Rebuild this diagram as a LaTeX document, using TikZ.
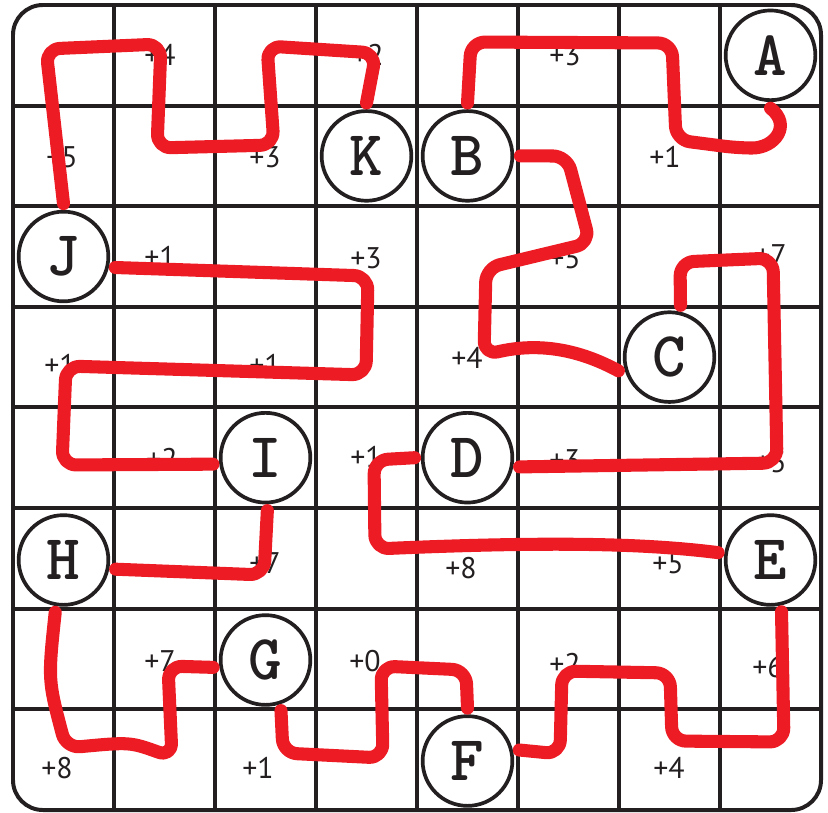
\documentclass[tikz,border=0pt]{standalone}
\usepackage{fontspec}
\setmainfont{PT Sans}
\usepackage{tikz}
\definecolor{gridInk}{RGB}{35,31,32}
\definecolor{trailRed}{RGB}{237,28,36}

\begin{document}
\begin{tikzpicture}[x=0.02475cm, y=-0.02475cm,
  gridline/.style={line width=2.8pt, draw=gridInk},
  station/.style={circle, draw=gridInk, line width=2.6pt, fill=white,
    minimum size=2.22cm, inner sep=0pt, outer sep=0.2cm, text=gridInk,
    font=\ttfamily\bfseries\fontsize{45}{45}\selectfont},
  score/.style={inner sep=0pt, text=gridInk, font=\fontsize{21}{21}\selectfont},
  trail/.style={line width=9.2pt, draw=trailRed, line cap=round,
    line join=round, rounded corners=0.35cm}]
  \useasboundingbox (0,0) rectangle (828,812);

  % 1. Board
  \foreach \k in {1,...,7} {
    \draw[gridline] ({13+101*\k},5) -- ({13+101*\k},810);
    \draw[gridline] (13,{5+100.6*\k}) -- (821,{5+100.6*\k});
  }
  \draw[gridline, rounded corners=0.74cm] (13,5) rectangle (821,810);

  % 2. Cell scores
  \foreach \x/\y/\s [count=\i] in {160/55/+4, 368/55/+2, 565/55/+3,
      62/157/+5, 265/157/+3, 665/157/+1,
      160/257/+1, 366/258/+3, 565/258/+5, 771/255/+7,
      60/365/+1, 265/365/+1, 467/358/+4,
      162/459/+2, 366/457/+1, 565/460/+3, 771/462/+5,
      265/563/+7, 461/568/+8, 668/563/+5,
      160/661/+7, 365/661/+0, 565/664/+2, 768/667/+6,
      57/768/+8, 258/768/+1, 669/768/+4}
    \node[score] (s\i) at (\x,\y) {\s};

  % 3. Stations
  \node[station] (A) at (770.5,55.3) {A};
  \node[station] (K) at (366.5,155.9) {K};
  \node[station] (B) at (467.5,155.9) {B};
  \node[station] (J) at (63.5,256.5) {J};
  \node[station] (C) at (669.5,357.1) {C};
  \node[station] (I) at (265.5,457.7) {I};
  \node[station] (D) at (467.5,457.7) {D};
  \node[station] (H) at (63.5,560) {H};
  \node[station] (E) at (770.5,560) {E};
  \node[station] (G) at (265.5,660) {G};
  \node[station] (F) at (467.5,761) {F};

  % 4. Trail, A to K
  \draw[trail] (A.south) .. controls (792,125) and (775,148) .. (738,148)
    -- (676,140) -- (672,43) -- (471,42) -- (B.north);
  \draw[trail] (B.east) -- (567,156) -- (590,243) -- (486,268) -- (484,355)
    .. controls (540,342) and (580,350) .. (C.195);
  \draw[trail] (C.78) -- (680,262) -- (773,258) -- (777,463) -- (D.-10);
  \draw[trail] (D.west) -- (374,460) -- (375,549)
    .. controls (560,541) and (650,544) .. (E.172);
  \draw[trail] (E.-78) -- (784,742) -- (672,741) -- (670,673) -- (562,671)
    -- (560,754) -- (F.12);
  \draw[trail] (F.north) -- (466,670) -- (381,666) -- (383,758) -- (283,753)
    -- (G.-73);
  \draw[trail] (G.188) -- (168,666) -- (172,757)
    .. controls (130,742) .. (66,748) .. controls (48,680) .. (H.-99);
  \draw[trail] (H.-10) -- (264,575) -- (I.-88);
  \draw[trail] (I.187) -- (62,465) -- (66,366) -- (366,375) -- (368,276)
    -- (J.-12);
  \draw[trail] (J.north) -- (46,49) -- (161,44) -- (157,148) -- (274,145)
    -- (267,46) -- (376,53) -- (K.north);
\end{tikzpicture}
\end{document}
